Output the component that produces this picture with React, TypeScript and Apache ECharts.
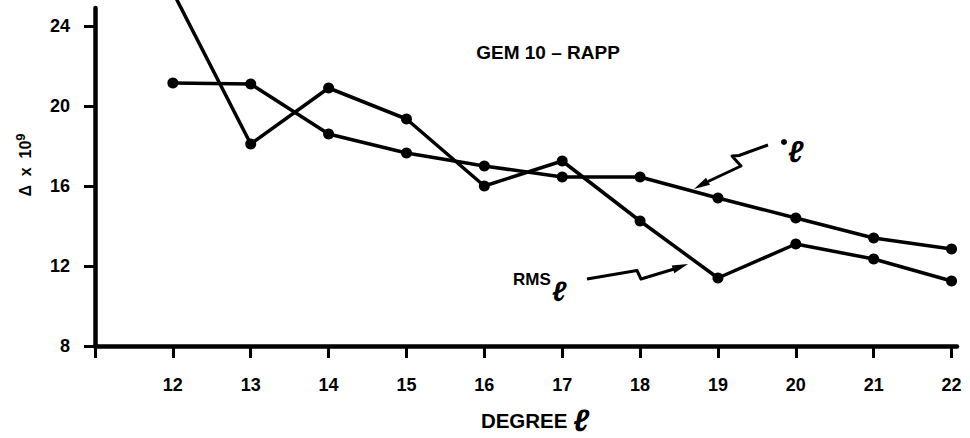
import React, { useEffect, useRef } from "react";
import * as echarts from "echarts";

// Data
const degrees = [12, 13, 14, 15, 16, 17, 18, 19, 20, 21, 22];
const sigmaValues = [21.15, 21.1, 18.6, 17.65, 17.0, 16.45, 16.45, 15.4, 14.4, 13.4, 12.85];
const rmsValues = [25.7, 18.1, 20.9, 19.35, 16.0, 17.25, 14.25, 11.4, 13.1, 12.35, 11.25];
const yTickValues = [8, 12, 16, 20, 24];
const xTickValues = [12, 13, 14, 15, 16, 17, 18, 19, 20, 21, 22];

const FONT = "'Liberation Sans', Arial, Helvetica, sans-serif";
const INK = "#000";

export default function App() {
  const ref = useRef<HTMLDivElement>(null);

  useEffect(() => {
    document.body.style.margin = "0";
    if (!ref.current) return;
    const chart = echarts.init(ref.current, null, { renderer: "svg" });

    const lineSeries = (name: string, values: number[]) => ({
      name,
      type: "line",
      data: degrees.map((d, i) => [d, values[i]]),
      symbol: "circle",
      symbolSize: 11,
      clip: false,
      itemStyle: { color: INK },
      lineStyle: { color: INK, width: 3.5 },
      emphasis: { disabled: true },
    });

    const labelStyle = {
      color: INK,
      fontSize: 18,
      fontWeight: "bold",
      fontFamily: FONT,
    };

    const textStyle = (text: string, size: number, extra: any = {}) => ({
      text,
      fill: INK,
      fontSize: size,
      fontWeight: "bold",
      fontFamily: FONT,
      align: "center",
      textAlign: "center",
      verticalAlign: "middle",
      textVerticalAlign: "middle",
      ...extra,
    });

    const option: any = {
      animation: false,
      backgroundColor: "#fff",
      grid: { left: 95, right: 13, top: 8, bottom: 92 },
      xAxis: {
        type: "value",
        min: 11,
        max: 22.07,
        axisLine: { show: true, onZero: false, lineStyle: { color: INK, width: 4.5 } },
        axisTick: {
          show: true,
          customValues: [11, ...xTickValues],
          length: 12,
          lineStyle: { color: INK, width: 3 },
        },
        axisLabel: { ...labelStyle, customValues: xTickValues, margin: 30 },
        splitLine: { show: false },
      },
      yAxis: {
        type: "value",
        min: 8,
        max: 24.9,
        axisLine: { show: true, onZero: false, lineStyle: { color: INK, width: 4.5 } },
        axisTick: {
          show: true,
          customValues: yTickValues,
          length: 11,
          lineStyle: { color: INK, width: 3 },
        },
        axisLabel: { ...labelStyle, customValues: yTickValues, margin: 25 },
        splitLine: { show: false },
      },
      series: [lineSeries("σℓ", sigmaValues), lineSeries("RMSℓ", rmsValues)],
      graphic: [
        {
          type: "text",
          x: 548,
          y: 52,
          style: textStyle("GEM 10 – RAPP", 19),
        },
        {
          type: "text",
          x: 25,
          y: 165,
          rotation: Math.PI / 2,
          style: textStyle("Δ  x  10{s|9}", 16, {
            rich: {
              s: { fontSize: 13, fontWeight: "bold", fontFamily: FONT, fill: INK, padding: [0, 0, 10, 0] },
            },
          }),
        },
        {
          type: "text",
          x: 535,
          y: 420,
          style: textStyle("DEGREE {l|ℓ}", 20.5, {
            rich: {
              l: { fontSize: 31, fontStyle: "italic", fontWeight: "bold", fontFamily: FONT, fill: INK },
            },
          }),
        },
        {
          type: "text",
          x: 513,
          y: 279,
          style: textStyle("RMS", 17, { align: "left", textAlign: "left" }),
        },
        {
          type: "text",
          x: 552,
          y: 291,
          style: textStyle("ℓ", 28, { align: "left", textAlign: "left", fontStyle: "italic" }),
        },
        {
          type: "circle",
          shape: { cx: 784, cy: 142, r: 3 },
          style: { fill: INK },
        },
        {
          type: "text",
          x: 788,
          y: 151,
          style: textStyle("ℓ", 30, { align: "left", textAlign: "left", fontStyle: "italic" }),
        },
        {
          type: "polyline",
          shape: { points: [[587, 279], [637, 270.5], [641, 279], [675, 268.8]] },
          style: { stroke: INK, lineWidth: 3, fill: null, lineJoin: "round" },
        },
        {
          type: "polygon",
          shape: { points: [[688, 264], [674.3, 273.2], [671.7, 265.6]] },
          style: { fill: INK },
        },
        {
          type: "polyline",
          shape: { points: [[768, 145], [739, 155.5], [732, 156], [741, 166], [708, 181.5]] },
          style: { stroke: INK, lineWidth: 3, fill: null, lineJoin: "round" },
        },
        {
          type: "polygon",
          shape: { points: [[694, 189], [710, 184.7], [706, 177.7]] },
          style: { fill: INK },
        },
      ],
    };

    chart.setOption(option);
    return () => chart.dispose();
  }, []);

  return <div ref={ref} style={{ width: 970, height: 438 }} />;
}
